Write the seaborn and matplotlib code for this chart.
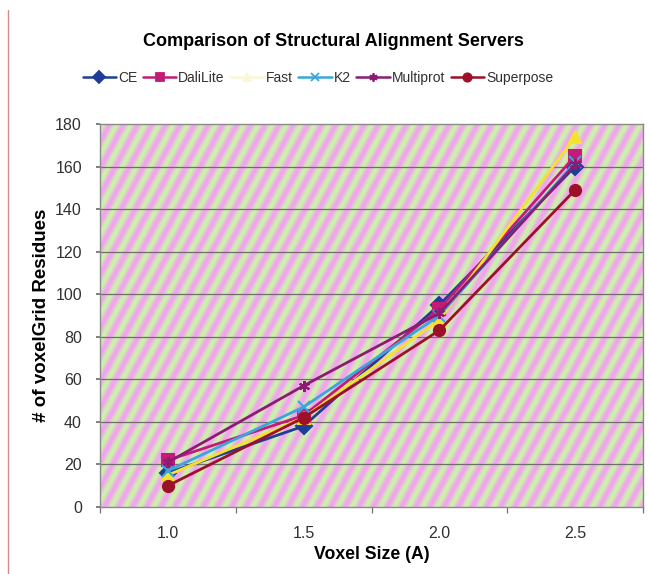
import numpy as np
import pandas as pd
import matplotlib
matplotlib.use("Agg")
import matplotlib.pyplot as plt
from matplotlib.lines import Line2D
import seaborn as sns

# ---- data -------------------------------------------------------------
voxel_sizes = ["1.0", "1.5", "2.0", "2.5"]
ce = [16, 38, 95, 160]
dalilite = [22, 43, 93, 165]
fast = [15, 42, 88, 174]
k2 = [17, 47, 90, 162]
multiprot = [21, 57, 91, 161]
superpose = [10, 42, 83, 149]

servers = ["CE", "DaliLite", "Fast", "K2", "Multiprot", "Superpose"]
series = [ce, dalilite, fast, k2, multiprot, superpose]
y_ticks = [0, 20, 40, 60, 80, 100, 120, 140, 160, 180]

colors = {
    "CE": "#1f3c98",
    "DaliLite": "#c21c78",
    "Fast": "#f4e22c",
    "K2": "#3aa6dc",
    "Multiprot": "#8a1c74",
    "Superpose": "#9c1028",
}
markers = {
    "CE": "D",
    "DaliLite": "s",
    "Fast": "^",
    "K2": "x",
    "Multiprot": (6, 2, 0),
    "Superpose": "o",
}

rows = []
for name, vals in zip(servers, series):
    for i, v in enumerate(vals):
        rows.append({"pos": i, "size": voxel_sizes[i], "server": name, "residues": v})
df = pd.DataFrame(rows)

# ---- figure -----------------------------------------------------------
sns.set_theme(style="white")
plt.rcParams["font.family"] = ["Liberation Sans", "DejaVu Sans"]

W, H = 649, 574
fig = plt.figure(figsize=(W / 100, H / 100), dpi=100)
fig.patch.set_facecolor("white")
ax = fig.add_axes([100 / W, 1 - 507 / H, 543 / W, 383 / H])

# striped plot-area fill (pink / green diagonal bands)
ny, nx = 383, 543
yy, xx = np.mgrid[0:ny, 0:nx]
ang = np.deg2rad(62)
phase = (xx * np.sin(ang) + (ny - yy) * (-np.cos(ang))) / 12.5
t = 0.5 + 0.5 * np.sin(2 * np.pi * phase)
pink = np.array([0.95, 0.64, 0.94])
green = np.array([0.80, 0.95, 0.67])
tex = pink[None, None, :] * t[..., None] + green[None, None, :] * (1 - t[..., None])
ax.imshow(tex, extent=[0, 1, 0, 1], transform=ax.transAxes, aspect="auto",
          zorder=0, interpolation="bilinear")

ax.set_xlim(-0.5, 3.5)
ax.set_ylim(0, 180)
ax.set_yticks(y_ticks)
for y in y_ticks[1:-1]:
    ax.axhline(y, color="#6e6e6e", lw=0.9, zorder=1)

for name in servers:
    sub = df[df["server"] == name]
    c = colors[name]
    sns.lineplot(
        data=sub, x="pos", y="residues", color=c, marker=markers[name],
        linewidth=2.0, markersize=8, markeredgewidth=1.5,
        markeredgecolor=c, markerfacecolor=c,
        ax=ax, legend=False, zorder=3,
    )

ax.set_xticks(range(len(voxel_sizes)))
ax.set_xticklabels(voxel_sizes)
ax.set_xticks([-0.5, 0.5, 1.5, 2.5, 3.5], minor=True)
ax.tick_params(axis="x", which="major", length=0, pad=14, labelsize=11.5, labelcolor="#303030")
ax.tick_params(axis="x", which="minor", length=4, direction="out", color="#707070", width=0.9, bottom=True)
ax.tick_params(axis="y", which="major", length=3, direction="out", color="#707070",
               pad=10, labelsize=11.5, labelcolor="#303030", left=True)

for side, sp in ax.spines.items():
    sp.set_visible(True)
    sp.set_color("#8a8a8a")
    sp.set_linewidth(1.0)
    sp.set_zorder(4)

ax.set_xlabel("Voxel Size (A)", fontsize=12.7, fontweight="bold", labelpad=3, color="black")
ax.set_ylabel("# of voxelGrid Residues", fontsize=13.5, fontweight="bold", labelpad=4, color="black")

fig.text(333 / W, 1 - 42 / H, "Comparison of Structural Alignment Servers",
         ha="center", va="center", fontsize=13, fontweight="bold", color="black")

# legend
handles = []
for name in servers:
    c = colors[name]
    if name == "Fast":
        c = "#fbf7d6"
    handles.append(Line2D([0], [0], color=c, lw=1.8, marker=markers[name],
                          markersize=6, markeredgecolor=c, markerfacecolor=c,
                          markeredgewidth=1.3))
fig.legend(handles, servers, loc="center", bbox_to_anchor=(318 / W, 1 - 78 / H),
           ncol=6, frameon=False, fontsize=10, handlelength=2.4, handletextpad=0.15,
           columnspacing=0.4, labelcolor="#303030")

# thin rule at the left edge of the page
fig.add_artist(Line2D([8 / W, 8 / W], [0, 1 - 10 / H], transform=fig.transFigure,
                      color="#d48a8a", lw=1.0))

fig.savefig("out.png", dpi=100, facecolor="white")
